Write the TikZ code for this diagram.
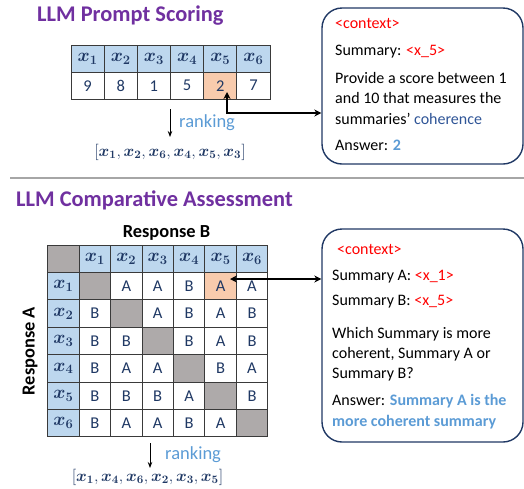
\RequirePackage{fix-cm}
\documentclass[tikz,border=0pt]{standalone}
\usepackage{amsmath,bm}
\usepackage{fontspec}
\setmainfont{Carlito}
\usetikzlibrary{arrows.meta,calc}
\definecolor{titlepurple}{HTML}{7030A0}
\definecolor{hdrblue}{HTML}{BDD7EE}
\definecolor{cellorange}{HTML}{F8CBAD}
\definecolor{graycell}{HTML}{AEAAAA}
\definecolor{navy}{HTML}{1F3864}
\definecolor{rankblue}{HTML}{5B9BD5}
\definecolor{boxblue}{HTML}{203864}
\definecolor{cohblue}{HTML}{2F5597}
\definecolor{sepgray}{HTML}{A6A6A6}
\definecolor{gridgray}{HTML}{3A3A3A}
\newcommand{\xv}[1]{\bm{x}_{\bm{#1}}}
\begin{document}
\begin{tikzpicture}[x=1pt,y=-1pt,
  titletext/.style={anchor=west,text=titlepurple,font=\fontsize{22.4}{26}\selectfont\bfseries,inner sep=0pt},
  tcell/.style={draw=gridgray,line width=0.8pt,minimum width=33.17pt,minimum height=27pt,inner sep=0pt,text=navy,font=\fontsize{16.5}{19}\selectfont},
  mcell/.style={draw=gridgray,line width=0.8pt,minimum width=31.43pt,minimum height=27.4pt,inner sep=0pt,text=navy,font=\fontsize{16.5}{19}\selectfont},
  hdr/.style={fill=hdrblue,font=\fontsize{18.5}{20}\selectfont},
  promptbox/.style={draw=boxblue,line width=1.4pt,rounded corners=20pt,minimum width=201pt,inner sep=0pt},
  boxline/.style={anchor=west,inner sep=0pt,font=\fontsize{16}{19}\selectfont},
  rankarrow/.style={line width=0.9pt,-{Stealth[length=6pt,width=4.5pt]}},
  ranktext/.style={anchor=west,inner sep=0pt,text=rankblue,font=\fontsize{18.5}{21}\selectfont},
  ranklist/.style={inner sep=0pt,text=navy,font=\fontsize{16.3}{19}\selectfont},
  bigarrow/.style={line width=2pt,{Stealth[length=7pt,width=7pt]}-{Stealth[length=7pt,width=7pt]}},
  axislabel/.style={inner sep=0pt,font=\fontsize{18.4}{21}\selectfont\bfseries}
]
\useasboundingbox (0,0) rectangle (524,488);

% ---------- top panel ----------
\node[titletext] (title1) at (37,16) {LLM Prompt Scoring};

\foreach \i/\v/\f in {1/9/white,2/8/white,3/1/white,4/5/white,5/2/cellorange,6/7/white}{
  \node[tcell,hdr] (ph\i) at ({71+33.17*(\i-0.5)},58.7) {$\xv{\i}$};
  \node[tcell,fill=\f] (pv\i) at ({71+33.17*(\i-0.5)},85.7) {\v};
}

\coordinate (r1s) at (170,109);
\coordinate (r1e) at (170,137);
\draw[rankarrow] (r1s) -- (r1e);
\node[ranktext] (rank1) at (179,123) {ranking};
\node[ranklist] (list1) at (170,152) {$[\xv{1}, \xv{2}, \xv{6}, \xv{4}, \xv{5}, \xv{3}]$};

\node[promptbox,minimum height=156pt] (box1) at (422.5,86) {};
\node[boxline,text=red] (b1l1) at (335,23) {<context>};
\node[boxline] (b1l2) at (335,52) {Summary: \textcolor{red}{<x\_5>}};
\node[boxline] (b1l3) at (335,77.5) {Provide a score between 1};
\node[boxline] (b1l4) at (335,98) {and 10 that measures the};
\node[boxline] (b1l5) at (335,118.5) {summaries’ \textcolor{cohblue}{coherence}};
\node[boxline] (b1l6) at (335,145) {Answer: \textcolor{rankblue}{\bfseries 2}};

\coordinate (a1) at (227,92);
\draw[bigarrow] (a1) |- (box1.west |- 0,113);

% separator
\draw[sepgray,line width=2pt] (10,178.3) -- (524,178.3);

% ---------- bottom panel ----------
\node[titletext] (title2) at (16,200.5) {LLM Comparative Assessment};
\node[axislabel] (respB) at (166.5,233) {Response B};
\node[axislabel,rotate=90] (respA) at (30,351) {Response A};

\node[mcell,fill=graycell] (m00) at ({47.7+31.43*0.5},{245+27.4*0.5}) {};
\foreach \i in {1,...,6}{
  \node[mcell,hdr] (m0\i) at ({47.7+31.43*(\i+0.5)},{245+27.4*0.5}) {$\xv{\i}$};
  \node[mcell,hdr] (m\i0) at ({47.7+31.43*0.5},{245+27.4*(\i+0.5)}) {$\xv{\i}$};
}
\foreach \r/\entries in {1/{-,A,A,B,A,A},2/{B,-,A,B,A,B},3/{B,B,-,B,A,B},4/{B,A,A,-,B,A},5/{B,B,B,A,-,B},6/{B,A,A,B,A,-}}{
  \foreach \e [count=\c] in \entries {
    \ifnum\r=\c \def\cf{graycell}\else\def\cf{white}\fi
    \ifnum\r=1 \ifnum\c=5 \def\cf{cellorange}\fi\fi
    \node[mcell,fill=\cf] (m\r\c) at ({47.7+31.43*(\c+0.5)},{245+27.4*(\r+0.5)}) {\ifnum\r=\c\else\e\fi};
  }
}

\coordinate (r2s) at (150,443);
\coordinate (r2e) at (150,468);
\draw[rankarrow] (r2s) -- (r2e);
\node[ranktext] (rank2) at (165,455) {ranking};
\node[ranklist] (list2) at (147.5,477) {$[\xv{1}, \xv{4}, \xv{6}, \xv{2}, \xv{3}, \xv{5}]$};

\node[promptbox,minimum height=213pt] (box2) at (422.5,335.5) {};
\node[boxline,text=red] (b2l1) at (337,249) {<context>};
\node[boxline] (b2l2) at (332,277) {Summary A: \textcolor{red}{<x\_1>}};
\node[boxline] (b2l3) at (332,302) {Summary B: \textcolor{red}{<x\_5>}};
\node[boxline] (b2l4) at (332,334) {Which Summary is more};
\node[boxline] (b2l5) at (332,354) {coherent, Summary A or};
\node[boxline] (b2l6) at (332,374) {Summary B?};
\node[boxline] (b2l7) at (332,401) {Answer: \textcolor{rankblue}{\bfseries Summary A is the}};
\node[boxline,text=rankblue,font=\fontsize{16}{19}\selectfont\bfseries] (b2l8) at (332,422) {more coherent summary};

\coordinate (a2) at (230,279);
\draw[bigarrow] (a2) -- (box2.west |- a2);
\end{tikzpicture}
\end{document}
